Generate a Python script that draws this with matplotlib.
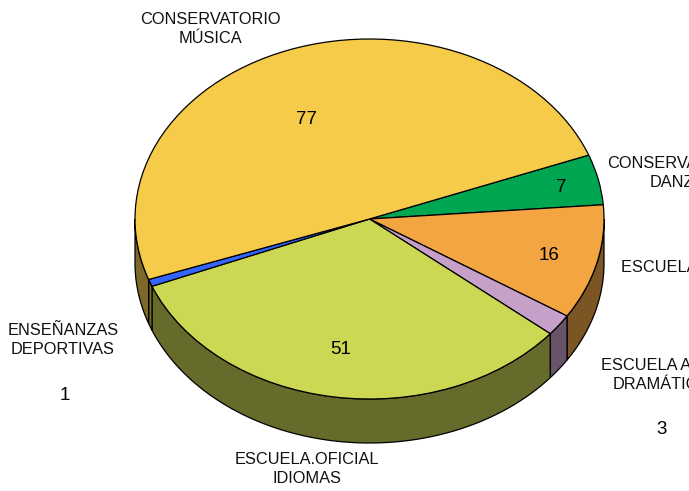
import numpy as np
import matplotlib
matplotlib.use("Agg")
import matplotlib.pyplot as plt

plt.rcParams['font.family'] = ['Liberation Sans', 'DejaVu Sans']

# slices clockwise, starting from the green one
labels = ["CONSERVATORIO\nDANZA", "ESCUELA MÚSICA", "ESCUELA ARTE\nDRAMÁTICO",
          "ESCUELA.OFICIAL\nIDIOMAS", "ENSEÑANZAS\nDEPORTIVAS", "CONSERVATORIO\nMÚSICA"]
values = [7, 16, 3, 51, 1, 77]
top_colors = ["#00A651", "#F2A541", "#C6A0C8", "#CCD853", "#3366FF", "#F7CB4A"]
side_colors = ["#00592B", "#7C5524", "#685468", "#666B2B", "#7C6828", "#7C6828"]

W, H = 689, 491
CX, CY = 369.5, 219
RX, RY = 234.5, 180
DEPTH = 44 / RY


def px(x, y):
    # picture pixels to pie units
    return (x - CX) / RX, (CY - y) / RY


fig = plt.figure(figsize=(W / 100, H / 100), dpi=100)
ax = fig.add_axes([0, 0, 1, 1])

wedges, _ = ax.pie(values, colors=top_colors, startangle=20.8, counterclock=False,
                   radius=1, wedgeprops=dict(edgecolor="black", linewidth=0.9, zorder=3))
ax.set_aspect("auto")
ax.set_xlim(px(0, 0)[0], px(W, 0)[0])
ax.set_ylim(px(0, H)[1], px(0, 0)[1])

# rim of the disc, only the part facing the viewer
for w, c in zip(wedges, side_colors):
    t1, t2 = w.theta1 % 360, w.theta2 % 360
    if t2 <= t1:
        t2 += 360
    for lo, hi in [(t1, t2), (t1 + 360, t2 + 360), (t1 - 360, t2 - 360)]:
        a, b = max(lo, 180), min(hi, 360)
        if b <= a:
            continue
        t = np.radians(np.linspace(a, b, 120))
        xs = np.r_[np.cos(t), np.cos(t[::-1])]
        ys = np.r_[np.sin(t), np.sin(t[::-1]) - DEPTH]
        ax.fill(xs, ys, facecolor=c, edgecolor="black", linewidth=0.9, zorder=2)

label_pos = [(677, 173), (693, 268), (662, 375), (307, 469), (63, 340), (210, 29)]
value_pos = [(561, 188), (549, 256), (662, 429), (341, 350), (65, 395), (307, 119)]

for lab, (x, y) in zip(labels, label_pos):
    ax.text(*px(x, y), lab, ha="center", va="center", fontsize=11.8,
            color="#111111", linespacing=1.4, zorder=5)
for val, (x, y) in zip(values, value_pos):
    ax.text(*px(x, y), str(val), ha="center", va="center", fontsize=13.5,
            color="black", zorder=5)

fig.savefig("out.png", dpi=100)
